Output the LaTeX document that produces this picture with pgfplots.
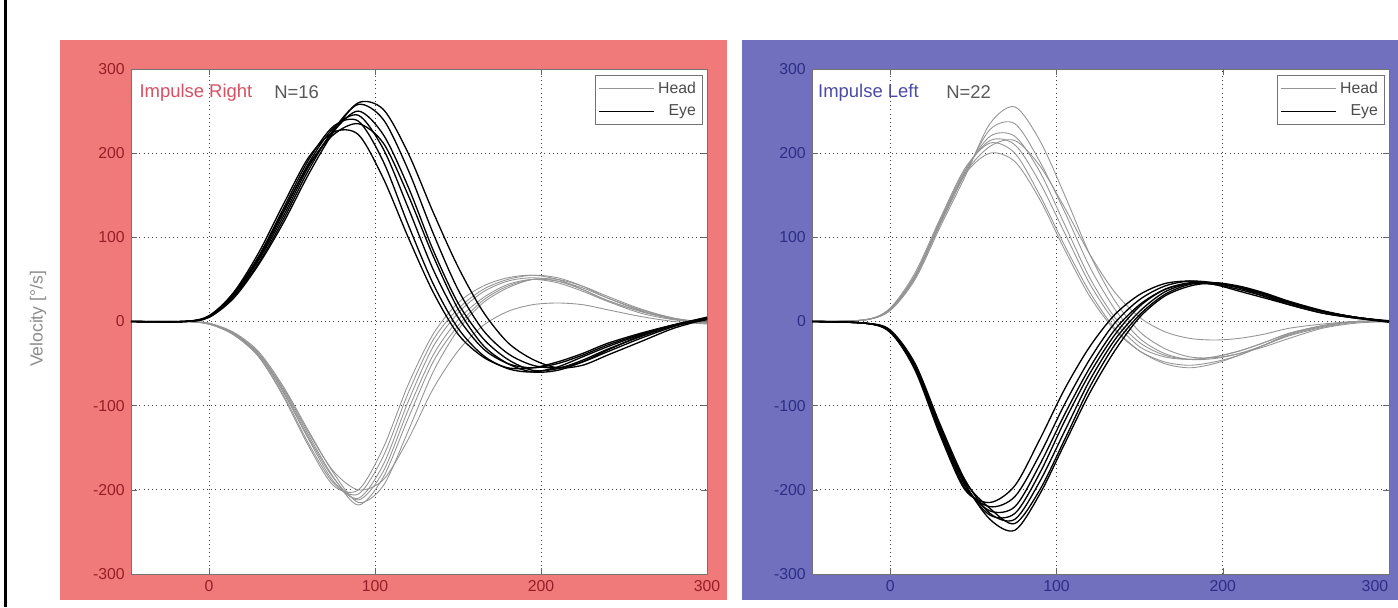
\documentclass[border=0pt]{standalone}
\usepackage{fontspec}
\setmainfont{Liberation Sans}
\usepackage{pgfplots}
\usepackage{pgfplotstable}
\pgfplotsset{compat=1.18}

\definecolor{panelred}{RGB}{240,122,122}
\definecolor{panelblue}{RGB}{112,112,190}
\definecolor{tickred}{RGB}{150,30,40}
\definecolor{tickblue}{RGB}{45,45,135}
\definecolor{titlered}{RGB}{215,80,100}
\definecolor{titleblue}{RGB}{75,75,165}

% time [ms], eye traces e1..e7, head traces h1..h7 (deg/s)
\pgfplotstableread{
t e1 e2 e3 e4 e5 e6 e7 h1 h2 h3 h4 h5 h6 h7
-47 0 0 0 0 0 0 0 0 0 0 0 0 0 0
-15 0 0 0 0 0 0 0 0 0 0 0 0 0 0
0 6 6 5 5 7 6 6 -3 -3 -2 -3 -3 -2 -3
15 35 32 30 28 34 31 33 -16 -15 -13 -14 -16 -14 -15
30 82 75 70 68 78 73 76 -42 -40 -36 -38 -42 -38 -40
45 140 130 122 118 135 126 132 -90 -85 -78 -82 -88 -80 -84
60 195 188 180 175 192 184 186 -148 -140 -130 -135 -145 -132 -138
75 225 230 228 225 232 226 222 -195 -190 -180 -185 -192 -178 -186
90 222 245 258 260 238 250 235 -200 -210 -215 -218 -205 -200 -212
105 170 205 240 252 190 222 212 -150 -170 -195 -185 -160 -188 -178
120 100 135 180 200 115 160 150 -75 -95 -130 -115 -85 -140 -105
135 35 62 105 130 45 85 78 -15 -30 -60 -48 -22 -80 -40
150 -15 5 38 65 -8 22 15 22 10 -10 -5 15 -35 2
165 -42 -32 -10 12 -40 -20 -28 42 35 22 25 38 -5 28
180 -55 -50 -38 -25 -56 -45 -50 52 48 40 42 50 12 44
195 -55 -55 -52 -45 -60 -58 -60 55 52 50 50 55 20 50
210 -48 -50 -55 -55 -54 -56 -58 50 48 50 48 52 22 46
225 -38 -40 -48 -52 -42 -46 -48 38 38 42 40 42 20 36
240 -26 -28 -36 -40 -30 -33 -34 25 25 30 28 28 14 24
260 -14 -15 -20 -24 -16 -18 -17 12 12 15 14 13 6 10
280 -4 -4 -6 -8 -5 -5 -4 3 3 4 4 3 0 2
300 3 4 5 3 2 4 5 -2 -2 -1 -2 -2 -3 -2
}\rightimpulse

\pgfplotstableread{
t e1 e2 e3 e4 e5 e6 e7 h1 h2 h3 h4 h5 h6 h7
-47 0 0 0 0 0 0 0 0 0 0 0 0 0 0
-15 -2 -2 -2 -2 -2 -2 -2 2 2 2 2 2 2 2
0 -12 -10 -12 -11 -13 -11 -12 15 14 15 13 16 14 14
15 -55 -50 -58 -52 -56 -54 -53 55 52 55 50 58 54 53
30 -130 -122 -135 -125 -132 -128 -126 120 115 118 112 122 118 116
45 -195 -188 -200 -192 -198 -194 -190 180 175 175 172 182 178 176
60 -225 -228 -215 -235 -220 -230 -222 215 228 200 235 212 220 208
75 -220 -235 -195 -248 -208 -228 -240 210 235 190 255 200 220 215
90 -170 -190 -140 -205 -158 -180 -200 165 190 145 215 150 178 185
105 -110 -130 -80 -145 -98 -118 -140 105 130 85 150 90 115 135
120 -55 -70 -30 -85 -45 -62 -78 45 65 30 80 35 52 80
135 -10 -22 8 -35 -2 -16 -28 0 15 -10 25 -8 5 35
150 20 12 32 5 26 18 8 -30 -20 -35 -12 -35 -25 5
165 38 35 45 30 42 38 32 -42 -38 -48 -32 -50 -40 -12
180 45 45 48 42 48 46 44 -45 -45 -52 -42 -55 -45 -20
195 44 46 44 46 46 45 46 -42 -44 -48 -43 -50 -42 -22
210 38 40 36 42 40 40 41 -35 -38 -40 -38 -40 -35 -20
225 30 32 28 34 30 32 33 -25 -28 -28 -30 -28 -25 -15
240 22 22 20 24 20 22 23 -14 -17 -16 -20 -15 -14 -8
260 12 12 10 13 10 12 12 -5 -7 -6 -8 -5 -5 -3
280 5 5 4 5 4 5 5 0 -1 0 -2 0 0 0
300 0 0 0 1 -1 0 0 0 0 0 0 0 0 0
}\leftimpulse

\pgfplotsset{
  vhit/.style={
    scale only axis, anchor=south west,
    width=115.2mm, height=101mm,
    xmin=-47, xmax=300, ymin=-300, ymax=300,
    xtick={0,100,200,300}, ytick={-300,-200,...,300},
    grid=major, major grid style={black!75, dotted, line width=0.5pt},
    tick align=inside, major tick length=1.2mm, tick style={black!60},
    axis line style={black!55, line width=0.4pt},
    axis background/.style={fill=white},
    ticklabel style={font=\fontsize{9}{10}\selectfont},
    /pgf/number format/assume math mode=true,
    legend style={at={(0.992,0.988)}, anchor=north east, draw=black!55, fill=white,
      font=\fontsize{9}{10}\selectfont, text=black!70, inner sep=1.5pt,
      row sep=1pt, cells={anchor=east}},
    legend image code/.code={\draw[##1] (0mm,0mm) -- (11mm,0mm);},
  },
  head/.style={black!42, line width=0.5pt},
  eye/.style={black, line width=0.75pt},
}

\begin{document}
\begin{tikzpicture}
\path[use as bounding box] (0,0) rectangle (279.6mm,121.4mm);
\fill[panelred] (12mm,1.4mm) rectangle (145.4mm,113.4mm);
\fill[panelblue] (148.4mm,1.4mm) rectangle (279.6mm,113.4mm);
\draw[black, line width=0.6mm] (1.1mm,0) -- (1.1mm,121.4mm);
\node[rotate=90, text=black!45, font=\fontsize{10}{11}\selectfont] at (7.6mm,57.6mm) {Velocity [°/s]};

\begin{axis}[vhit, at={(26.2mm,6.6mm)},
  ticklabel style={text=tickred}]
\addlegendimage{head}\addlegendentry{Head}
\addlegendimage{eye}\addlegendentry{Eye}
\pgfplotsinvokeforeach{1,...,7}{
  \addplot[head, smooth, forget plot] table[x=t, y=h#1] {\rightimpulse};
}
\pgfplotsinvokeforeach{1,...,7}{
  \addplot[eye, smooth, forget plot] table[x=t, y=e#1] {\rightimpulse};
}
\node[anchor=west, text=titlered, font=\fontsize{10.5}{12}\selectfont] at (rel axis cs:0.004,0.954) {Impulse Right};
\node[anchor=west, text=black!65, font=\fontsize{10.5}{12}\selectfont] at (rel axis cs:0.238,0.954) {N=16};
\end{axis}

\begin{axis}[vhit, at={(162.4mm,6.6mm)}, width=115.4mm,
  ticklabel style={text=tickblue},
  xticklabels={0,100,200,{\makebox[0pt][r]{300\hspace{0.5pt}}}}]
\addlegendimage{head}\addlegendentry{Head}
\addlegendimage{eye}\addlegendentry{Eye}
\pgfplotsinvokeforeach{1,...,7}{
  \addplot[head, smooth, forget plot] table[x=t, y=h#1] {\leftimpulse};
}
\pgfplotsinvokeforeach{1,...,7}{
  \addplot[eye, smooth, forget plot] table[x=t, y=e#1] {\leftimpulse};
}
\node[anchor=west, text=titleblue, font=\fontsize{10.5}{12}\selectfont] at (rel axis cs:0.0,0.954) {Impulse Left};
\node[anchor=west, text=black!65, font=\fontsize{10.5}{12}\selectfont] at (rel axis cs:0.222,0.954) {N=22};
\end{axis}
\end{tikzpicture}
\end{document}
